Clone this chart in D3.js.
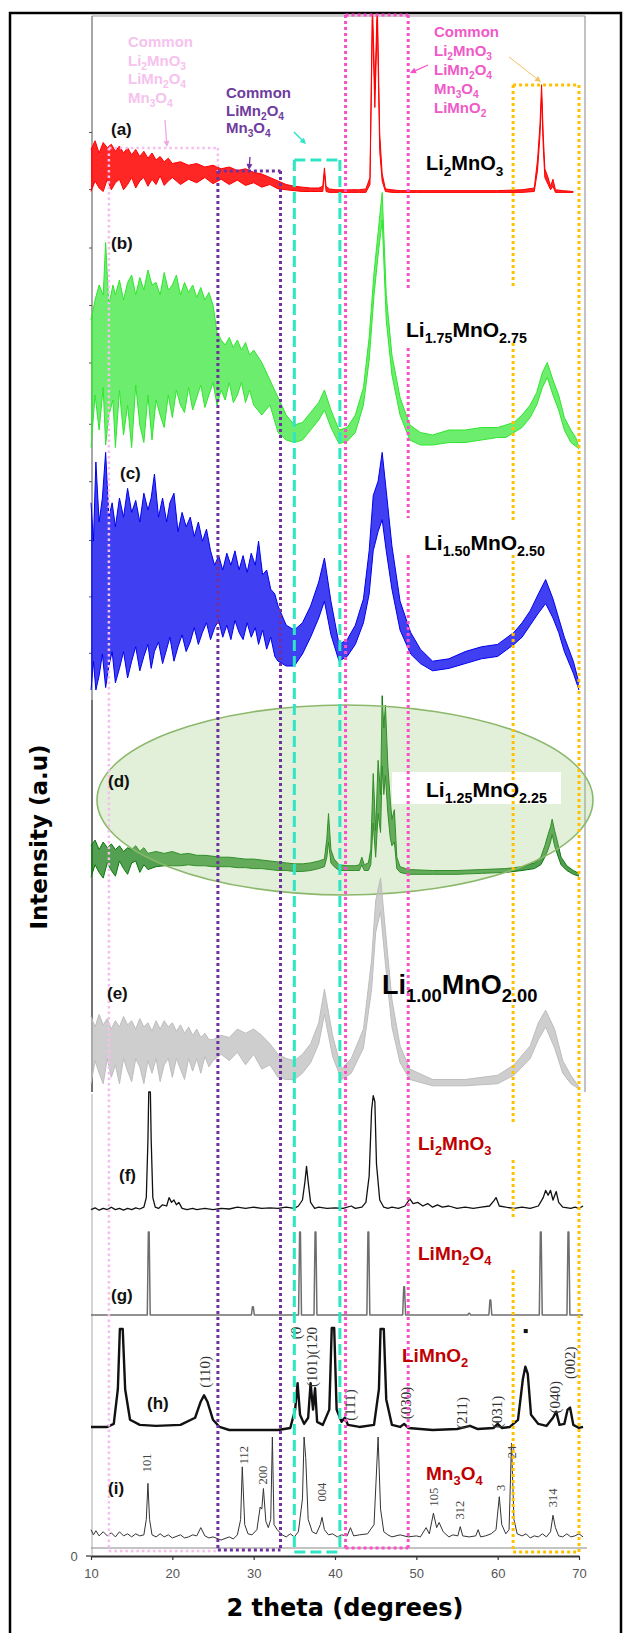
<!DOCTYPE html>
<html><head><meta charset="utf-8">
<script src="https://cdn.jsdelivr.net/npm/d3@7"></script>
<style>body{margin:0;background:#fff}svg{display:block}</style>
</head><body>
<svg id="chart" width="624" height="1633"></svg>
<script>
// ---------- data ----------
const xTicks = [10, 20, 30, 40, 50, 60, 70];

// measured samples: [2theta, upper envelope, lower envelope] (a.u., 0-100 per panel)
const specA = [[10,26,2],[10.5,31,8],[11,24,4],[11.5,30,2],[12,27,9],[12.5,29,3],[13,25,7],[13.5,28,9],[14,24,3],[14.5,27,6],[15,23,10],[15.5,26,4],[16,22,8],[16.5,25,10],[17,21,5],[17.5,24,9],[18,20,6],[18.5,22,11],[19,19,5.5],[19.5,21,8],[20,18,10],
[21,19,6],[22,17,9],[23,18,7],[24,16,10],[25,17,6.5],[26,15,9],[27,16,6],[28,14,8.5],[29,15,5.5],[30,13,7],[31,12,4.5],[32,10,6],[33,8,3.5],[34,6,3],[35,5,2.5],[36,4.5,2],[37,4,2],[38,4,2],
[38.5,5,2],[38.7,15.5,12],[38.9,5,2],[39.3,3.5,1.5],[40,3,1.5],[41,3,1.5],[42,3,1.5],[43,3,1.5],[43.8,3.5,1.5],[44.3,10,6],
[44.6,110,100],[44.9,60,50],[45.2,110,100],[45.5,35,25],[45.8,12,8],[46.2,3.5,2],[47,3,1.5],[48,2.5,1.5],[50,2.5,1.5],[55,2.5,1.5],
[60,2.5,1.5],[63,3,1.5],[64.5,4,2],[64.9,20,14],[65.2,40,34],[65.4,63,56],[65.6,35,28],[65.8,15,10],[66.2,10,6],[66.5,5,3],
[66.8,9,5],[67.1,3,1.5],[68,2.5,1.5],[69.3,2,1.5]];

const specB = [[10,52,1],[10.5,60,22],[11,66,8],[11.5,62,25],[11.8,83,2],[12.2,58,14],[12.7,66,20],[13,62,1],[13.5,68,24],[14,60,6],[14.5,67,18],[15,70,1],[15.5,62,26],[16,69,10],[16.5,64,3],[17,72,22],
[17.5,66,4],[18,67,20],[18.5,62,14],[19,71,9],[19.5,64,22],[20,66,13],[20.5,70,24],[21,62,18],[21.5,67,15],[22,63,25],[22.5,66,16],[23,61,21],[23.5,65,26],[24,60,17],[24.5,63,22],[25,58,27],[25.5,47,18],[26,44,24],[26.5,42,20],[27,45,27],[27.5,41,19],[28,44,22],[28.5,40,27],[29,43,19],[29.5,38,24],[30,40,18],[31,35,14],[32,28,18],[33,21,7],
[34,14,4],[35,10,3],[36,11,4],[37,15,8],[38,19,12],[38.7,24,16],[39.5,16,9],[40.5,8,2.5],[41.5,9,3.5],[42.5,14,7],[43.5,25,18],[44.2,45,36],[44.8,71,62],[45.3,87,78],[45.8,103,92],[46.3,62,52],[47,38,30],[48,21,14],[49.2,10,4],[50.5,7,2],[52,6,2],[54,8,3],[56,8,3],[58,9,4],[60,9,5],[61,10,5],[62,11,7],[63,14,9],[64,18,13],[64.8,23,18],[65.5,31,25],[66.1,35,29],[66.8,28,22],[67.5,22,16],[68.2,13,8],[69,8,3],[69.6,5,1.5],[70,1,0.5]];

const specC = [[10,78,0],[10.3,62,12],[10.6,95,0],[11,70,6],[11.4,80,15],[11.8,99,1],[12.2,72,10],[12.6,78,16],[13,68,3],[13.5,80,9],
[14,72,16],[14.5,84,5],[15,74,12],[15.5,79,18],[16,70,8],[16.5,82,14],[17,75,19],[17.4,80,9],[17.8,90,16],[18.3,72,20],
[18.8,80,11],[19.3,70,17],[19.7,78,22],[20.2,82,12],[20.7,66,18],[21.2,74,23],[21.7,68,16],[22.2,72,20],[22.7,64,26],[23.2,70,19],
[23.7,62,24],[24.2,67,28],[24.7,58,21],[25.2,52,26],[25.7,56,29],[26.2,50,22],[26.7,57,27],[27.2,52,21],[27.7,58,29],[28.2,50,24],
[28.7,56,21],[29.2,49,28],[29.7,57,22],[30.2,52,26],[30.6,62,19],[31.1,48,25],[31.6,50,17],[32.1,42,22],[32.6,40,14],[33,35,12],
[34,27,10],[35,25,10],[36,28,15],[37,35,22],[38,45,30],[38.7,55,37],[39.5,37,23],[40.5,19,12],[41.5,21,14],[42.5,27,19],
[43.5,38,28],[44.2,58,40],[44.7,81,58],[45.3,87,66],[45.8,99,71],[46.3,83,58],[47,60,42],[48,37,25],[49.3,24,15],[50.5,17,11],
[52,12,8],[54,13,9],[56,16,11],[58,18,13],[60,19,14],[62,24,19],[63,28,22],[64,33,27],[65,40,32],[65.9,46,36],
[66.8,38,30],[67.5,30,24],[68.2,22,16],[69.3,12,7],[70,3,0]];

const specD = [[10,18,1.5],[10.5,21,8],[11,16,4],[11.5,20,1],[12,17,9],[12.5,19,5],[13,16,2],[13.5,18,10],[14,15,6],[14.5,17,3],[15,16,9],[15.5,18,10],[16,15,4],[16.5,17,8],[17,14,5.5],
[18,15,7],[19,14,7.5],[20,15,7.5],[21,13.5,7.5],[22,14,8],[23,13,7.5],[24,13,7.5],[25,12.5,7],[26,12,7],[27,12,7],[28,11.5,6.5],[29,11,6.5],[30,11,6],[31,10.5,6],[32,10,5.5],[33,9.5,5],[34,9,5],[35,8.5,4.5],[36,8.5,4.5],[37,9,5],[38,10,6],
[38.7,11,7],[39.0,22,12],[39.2,35,20],[39.5,16,9],[39.9,11,7],[40.5,8,5],[41.5,7.5,5],[42.5,7.5,5],
[43.0,8,5],[43.3,12,8],[43.6,8,5],[44.1,9,5],[44.4,16,8],[44.7,56,30],[45.0,26,12],[45.3,63,35],[45.6,45,25],[45.8,97,60],
[46.0,80,45],[46.2,92,55],[46.5,60,35],[46.8,42,22],[47.0,32,18],[47.3,37,20],[47.6,12,6],[48,7,4],[49,5.5,3],[52,5,3],
[55,5,3],[58,5.5,3.5],[61,6,4],[63,7,5],[64.5,9,6],[65.3,12,8],[65.8,18,12],[66.2,24,16],[66.5,28,20],[66.7,32,24],
[67.0,26,18],[67.3,21,14],[67.8,12,8],[68.5,7.5,5],[69.3,5,3],[70,3.5,2]];

const specE = [[10,35,3],[10.5,30,14],[11,36,8],[11.5,31,3],[12,34,15],[12.5,29,6],[13,33,12],[13.5,30,3],[14,35,15],[14.5,31,9],[15,33,4],[15.5,29,15],[16,34,11],[16.5,30,3],[17,32,14],[17.5,28,8],[18,33,15],[18.5,29,4],[19,33,12],[19.5,30,15],[20,32,6],[20.5,28,15],[21,31,10],[21.5,27,5],[22,30,15],[22.5,26,9],[23,29,15],[23.5,25,8],[24,27,16],[24.5,24,11],[25,24,14],
[26,26,17],[27,25,14],[28,29,18],[29,27,12],[30,29,17],[31,26,10],[32,22,12],[33,17,6],[34,15,5],[35,14,5],[36,17,8],[37,22,13],[38,32,22],
[38.7,48,36],[39.7,26,16],[40.8,10,5],[42,15,8],[43.5,29,20],[44.5,62,48],[45,90,75],[45.6,101,85],[46.2,76,60],[47,43,30],
[48,21,13],[49.2,10,5],[52,5,2],[56,5,2],[60,7,3],[62,12,7],[64,21,15],[65,32,24],[65.9,38,30],[67,29,20],
[68,14,8],[69,7,3],[70,1.5,0.5]];

// reference patterns: [2theta, intensity]
const refLi2MnO3 = [[10,2],[10.5,3.5],[11,1.5],[11.5,3],[12,2],[12.5,4],[13,2],[13.5,3],[14,1.5],[14.5,3],[15,2],[15.5,3.5],[16,2.5],[16.5,4],[16.8,12],[17.0,60],[17.1,100],[17.3,100],[17.4,60],[17.6,12],[17.9,4],[18.3,3],[18.8,6],[19.3,5],[19.6,12],[19.9,8],[20.2,10],[20.5,6],[20.8,8],[21.2,3],[21.8,2],[22.5,3],[23,2],[24,3],[25,2],[26,3],[27,2.5],[28,4],[29,3],[30,4],[31,3],[32,3.5],[33,3],[34,4],[35,3],[35.5,5],[36.0,10],[36.3,25],[36.5,38],[36.7,25],[37.0,8],[37.5,3],[38,4],[39,3],[40,3.5],[41,3],[42,5],[42.5,3],[43.3,4],[43.8,8],[44.2,30],[44.5,85],[44.7,97],[44.9,92],[45.1,40],[45.5,10],[46,4],[46.5,3],[47,4],[47.8,3],[48.6,5],[49.2,11],[49.6,7],[50.2,8],[50.8,5],[51.4,7],[52,4],[52.6,6],[53.2,4],[54,5],[55,3],[56,4],[57,3],[58,4],[59,5],[59.5,9],[59.8,12],[60.2,5],[61,4],[62,3],[63,4],[64,3],[65,5],[65.6,12],[65.9,18],[66.2,14],[66.5,18],[66.8,10],[67.2,17],[67.5,8],[68,4],[69,3],[69.5,4],[70,3],[70.5,5]];

const refLiMn2O4Peaks = [17.1, 29.9, 35.7, 37.6, 44.1, 48.5, 56.5, 59.1, 65.3, 68.7];
const refLiMn2O4Heights = [100, 10, 100, 100, 100, 34, 2, 18, 100, 100];

const refLiMnO2 = [[10,3],[12,3],[12.8,6],[13.3,40],[13.55,99],[13.9,99],[14.2,40],[14.8,10],[16,5],[18,4],[21,5],[22.8,12],[23.5,28],[23.9,34],[24.3,28],[25,10],[25.8,3],[27,0],[30,0],[33,0],[34.5,2],[35.1,20],[35.4,46],[35.7,15],[36.2,6],[36.7,12],[37.0,46],[37.3,20],[37.55,41],[37.8,8],[38.5,5],[39.3,20],[39.6,100],[39.9,100],[40.2,20],[40.8,8],[41.2,12],[41.6,5],[43,3],[44.8,5],[45.4,40],[45.6,99],[46.0,99],[46.3,30],[47,5],[48,3],[48.5,6],[49,2],[52,0],[55,1],[56.6,4],[57.5,1],[59.5,2],[60,6],[60.5,2],[61.5,3],[62.5,10],[63.1,50],[63.4,62],[63.7,55],[64.1,15],[65,6],[66,4],[66.8,12],[67.2,18],[67.6,5],[68.2,6],[68.6,20],[68.9,22],[69.3,5],[70,2],[70.5,3]];
const liMnO2Labels = ["(110)", "(0", "(101)(120", "(111)", "(030)", "(211)", "(031)", "(040)", "(002)"];
const liMnO2LabelTheta = [24.0, 35.2, 37.2, 41.85, 48.7, 55.6, 59.9, 67.05, 68.9];
const liMnO2LabelLevel = [57, 95, 71.5, 24.5, 26.5, 16.7, 17.6, 32, 66];

const refMn3O4 = [[10,10],[10.3,5],[10.6,9],[11,4],[11.5,8],[12,4],[12.5,7],[13,3],[13.5,8],[14,4],[14.5,6],[15,3],[15.5,6],[16,4],[16.5,5],[16.8,20],[17.0,55],[17.2,20],[17.5,5],[18,3],[18.5,6],[19,3],[19.5,5],[20,2],[21,5],[21.5,2],[22,3],[22.5,5],[23,4],[23.5,12],[24,4],[24.5,2],[25,3],[26,0],[27,3],[27.5,1],[28,5],[28.4,20],[28.6,71],[28.9,15],[29.3,6],[29.8,5],[30.4,10],[30.8,32],[31.0,30],[31.2,50],[31.5,18],[31.8,12],[32.1,20],[32.3,100],[32.5,15],[32.9,10],[33.5,5],[34,3],[34.5,6],[35,3],[35.5,8],[36.0,40],[36.2,100],[36.4,80],[36.7,20],[37.2,8],[37.7,6],[38.2,15],[38.4,22],[38.7,10],[39.2,5],[39.7,6],[40.3,3],[40.8,5],[41.5,4],[41.9,12],[42.3,4],[43,5],[44,6],[44.8,15],[45.3,100],[45.6,30],[46,8],[46.5,5],[47,3],[48,5],[49,3],[50,4],[50.5,3],[51.2,12],[51.6,6],[52.1,26],[52.5,12],[52.8,17],[53.3,8],[54,3],[54.5,5],[55.1,4],[55.4,13],[55.7,4],[56.5,3],[57.3,4],[57.6,10],[57.9,3],[58.5,4],[59.2,6],[59.8,10],[60.2,42],[60.5,15],[61,6],[61.4,10],[61.7,94],[62.0,20],[62.4,6],[63,4],[63.5,6],[64,2],[64.5,4],[65,3],[65.5,6],[66,3],[66.5,8],[66.8,24],[67.1,12],[67.5,4],[68,3],[68.5,6],[69,3],[69.5,4],[70,6],[70.5,3]];
const mn3o4Labels = ["101", "112", "200", "004", "105", "312", "3", "24", "314"];
const mn3o4LabelTheta = [16.9, 28.75, 31.15, 38.35, 52.2, 55.4, 60.35, 61.75, 66.8];
const mn3o4LabelLevel = [75, 82.5, 63, 46.6, 41.7, 29, 50.5, 85.4, 40.8];

const panelLetters = ["(a)", "(b)", "(c)", "(d)", "(e)", "(f)", "(g)", "(h)", "(i)"];
const sampleNames = ["Li_{2}MnO_{3}", "Li_{1.75}MnO_{2.75}", "Li_{1.50}MnO_{2.50}", "Li_{1.25}MnO_{2.25}", "Li_{1.00}MnO_{2.00}"];
const referenceNames = ["Li_{2}MnO_{3}", "LiMn_{2}O_{4}", "LiMnO_{2}", "Mn_{3}O_{4}"];
const noteLightPink = ["Common", "Li_{2}MnO_{3}", "LiMn_{2}O_{4}", "Mn_{3}O_{4}"];
const notePurple = ["Common", "LiMn_{2}O_{4}", "Mn_{3}O_{4}"];
const noteMagenta = ["Common", "Li_{2}MnO_{3}", "LiMn_{2}O_{4}", "Mn_{3}O_{4}", "LiMnO_{2}"];

// 2theta ranges of the highlighted common-peak windows
const windowLightPink = [12.2, 25.6];
const windowPurple = [25.6, 33.3];
const windowCyan = [35.0, 40.6];
const windowMagenta = [41.3, 49.0];
const windowOrange = [61.9, 70.0];

// ---------- layout ----------
const svg = d3.select("#chart");
const defs = svg.append("defs");
const SANS = "'Liberation Sans', Arial, sans-serif";
const HEAVY = "'DejaVu Sans', sans-serif";
const SERIF = "'Liberation Serif', 'Times New Roman', serif";

const x = d3.scaleLinear().domain([10, 70]).range([91, 579]);
const panelPx = {a:[195,20], b:[450,200], c:[690,450], d:[880,690], e:[1090,880],
                 f:[1212,1092], g:[1315,1232], h:[1430,1328], i:[1540,1437]};
const y = {};
Object.keys(panelPx).forEach(k => { y[k] = d3.scaleLinear().domain([0, 100]).range(panelPx[k]); });

// outer frame
svg.append("rect").attr("x", 10).attr("y", 13).attr("width", 611).attr("height", 1640)
  .attr("fill", "none").attr("stroke", "#000").attr("stroke-width", 2.5);

// plot frame pieces
const frame = svg.append("g").attr("fill", "none");
frame.append("line").attr("x1", 92).attr("x2", 92).attr("y1", 16).attr("y2", 700).attr("stroke", "#8a8a8a").attr("stroke-width", 1.5);
frame.append("line").attr("x1", 92).attr("x2", 92).attr("y1", 700).attr("y2", 1092).attr("stroke", "#444").attr("stroke-width", 1.5);
frame.append("line").attr("x1", 92).attr("x2", 92).attr("y1", 1094).attr("y2", 1556).attr("stroke", "#aaa").attr("stroke-width", 1);
frame.append("line").attr("x1", 92).attr("x2", 585).attr("y1", 16).attr("y2", 16).attr("stroke", "#999").attr("stroke-width", 1.2);
frame.append("line").attr("x1", 585).attr("x2", 585).attr("y1", 16).attr("y2", 1092).attr("stroke", "#999").attr("stroke-width", 1.2);
frame.append("line").attr("x1", 91).attr("x2", 587).attr("y1", 1548).attr("y2", 1548).attr("stroke", "#888").attr("stroke-width", 1);

// small left ticks of the sample panels
const leftTicks = {a:[3.4, 36], b:[10.5, 35, 58, 81], c:[15.5, 39, 62.5, 87]};
Object.keys(leftTicks).forEach(k => {
  const g = svg.append("g").attr("transform", "translate(92,0)")
    .call(d3.axisLeft(y[k]).tickValues(leftTicks[k]).tickSize(3).tickFormat(""));
  g.select(".domain").remove();
  g.selectAll("line").attr("stroke", "#555");
});

defs.append("clipPath").attr("id", "clipTop").append("rect")
  .attr("x", 80).attr("y", 14).attr("width", 520).attr("height", 1700);

// noisy scan drawn as the band between its upper and lower envelopes
function band(spec, k, color, fillOpacity, lw) {
  const ys = y[k];
  const g = svg.append("g").attr("clip-path", "url(#clipTop)");
  g.append("path").datum(spec)
    .attr("d", d3.area().x(d => x(d[0])).y0(d => ys(d[2])).y1(d => ys(d[1])))
    .attr("fill", color).attr("fill-opacity", fillOpacity);
  [1, 2].forEach(j => {
    g.append("path").datum(spec)
      .attr("d", d3.line().x(d => x(d[0])).y(d => ys(d[j])))
      .attr("fill", "none").attr("stroke", color).attr("stroke-width", lw).attr("stroke-linejoin", "miter");
  });
}

function trace(points, k, color, lw) {
  svg.append("path").datum(points)
    .attr("d", d3.line().x(d => x(d[0])).y(d => y[k](d[1])))
    .attr("fill", "none").attr("stroke", color).attr("stroke-width", lw).attr("stroke-linejoin", "round");
}

// chemical formula with subscripts
function chem(parent, str, px, py, size, color, family) {
  const t = parent.append("text").attr("x", px).attr("y", py).attr("font-size", size)
    .attr("fill", color).attr("font-weight", "bold").attr("font-family", family || SANS);
  const parts = str.split(/(_\{[^}]*\})/).filter(s => s.length);
  let low = false;
  const dd = size * 0.28;
  parts.forEach(p => {
    if (p.startsWith("_{")) {
      t.append("tspan").attr("font-size", size * 0.68).attr("dy", low ? 0 : dd).text(p.slice(2, -1));
      low = true;
    } else {
      t.append("tspan").attr("dy", low ? -dd : 0).text(p);
      low = false;
    }
  });
  return t;
}

// ---------- sample patterns ----------
band(specA, "a", "#ff0000", 0.85, 1);
band(specB, "b", "#2fe62f", 0.7, 1);
band(specC, "c", "#0000ee", 0.75, 1);
band(specD, "d", "#0a780a", 0.7, 1);

// highlighted region around pattern (d)
svg.append("ellipse").attr("cx", 345).attr("cy", 800).attr("rx", 248).attr("ry", 95)
  .attr("fill", "rgba(150,200,120,0.28)").attr("stroke", "#8cb86c").attr("stroke-width", 1.6);
svg.append("rect").attr("x", 392).attr("y", 772).attr("width", 169).attr("height", 32).attr("fill", "#fff");

band(specE, "e", "#bdbdbd", 0.75, 1);

// ---------- reference patterns ----------
trace(refLi2MnO3, "f", "#111", 1.3);

const gPath = [[10, 0]];
refLiMn2O4Peaks.forEach((p, i) => {
  gPath.push([p - 0.18, 0], [p - 0.05, refLiMn2O4Heights[i]], [p + 0.05, refLiMn2O4Heights[i]], [p + 0.18, 0]);
});
gPath.push([70.5, 0]);
trace(gPath, "g", "#6e6e6e", 1.5);

trace(refLiMnO2, "h", "#111", 2.4);
trace(refMn3O4, "i", "#333", 1);

// marker dot above the LiMnO2 reflection near 63 degrees
svg.append("rect").attr("x", x(63.45) - 2).attr("y", y.h(97) - 2).attr("width", 4).attr("height", 4).attr("fill", "#111");

// Miller-index labels
function vLabels(names, thetas, levels, k, size, color) {
  names.forEach((s, i) => {
    svg.append("text")
      .attr("transform", `translate(${x(thetas[i])},${y[k](levels[i])}) rotate(-90)`)
      .attr("text-anchor", "middle").attr("dominant-baseline", "central")
      .attr("font-family", SERIF).attr("font-size", size).attr("fill", color).text(s);
  });
}
vLabels(liMnO2Labels, liMnO2LabelTheta, liMnO2LabelLevel, "h", 15, "#333");
vLabels(mn3o4Labels, mn3o4LabelTheta, mn3o4LabelLevel, "i", 12.5, "#444");

// ---------- common-peak windows ----------
function vSeg(px, y1, y2, gaps, color, dash, w) {
  let start = y1;
  const segs = [];
  (gaps || []).forEach(g => { segs.push([start, g[0]]); start = g[1]; });
  segs.push([start, y2]);
  segs.forEach(s => svg.append("line").attr("x1", px).attr("x2", px).attr("y1", s[0]).attr("y2", s[1])
    .attr("stroke", color).attr("stroke-width", w).attr("stroke-dasharray", dash));
}
function hSeg(x1, x2, py, color, dash, w) {
  svg.append("line").attr("x1", x1).attr("x2", x2).attr("y1", py).attr("y2", py)
    .attr("stroke", color).attr("stroke-width", w).attr("stroke-dasharray", dash);
}

const cLight = "#f7bdef", cPurple = "#7030a0", cCyan = "#2ee6c3", cMag = "#fa4fc6", cOrange = "#ffc000";

// light pink window
vSeg(x(windowLightPink[0]), 148, 1551, [], cLight, "2.5 3", 2.5);
vSeg(x(windowLightPink[1]), 148, 171, [], cLight, "2.5 3", 2.5);
hSeg(x(windowLightPink[0]), x(windowLightPink[1]), 148, cLight, "2.5 3", 2.5);
hSeg(x(windowLightPink[0]), x(windowLightPink[1]), 1551, cLight, "2.5 3", 2.5);
// purple window
vSeg(x(windowPurple[0]), 171, 1550, [], cPurple, "3 3", 3);
vSeg(x(windowPurple[1]), 171, 1550, [], cPurple, "3 3", 3);
hSeg(x(windowPurple[0]), x(windowPurple[1]), 171, cPurple, "3 3", 3);
hSeg(x(windowPurple[0]), x(windowPurple[1]), 1550, cPurple, "3 3", 3);
// cyan window
vSeg(x(windowCyan[0]), 160, 1552, [], cCyan, "11 5", 3);
vSeg(x(windowCyan[1]), 160, 1552, [], cCyan, "11 5", 3);
hSeg(x(windowCyan[0]), x(windowCyan[1]), 160, cCyan, "11 5", 3);
hSeg(x(windowCyan[0]), x(windowCyan[1]), 1552, cCyan, "11 5", 3);
// magenta window
vSeg(x(windowMagenta[0]), 15, 1548, [], cMag, "3 3", 3);
vSeg(x(windowMagenta[1]), 15, 1548, [[288, 348], [518, 555]], cMag, "3 3", 3);
hSeg(x(windowMagenta[0]), x(windowMagenta[1]), 15, cMag, "3 3", 3);
hSeg(x(windowMagenta[0]), x(windowMagenta[1]), 1548, cMag, "3 3", 3);
// orange window
vSeg(x(windowOrange[0]), 85, 1552, [[288, 343], [520, 555], [1123, 1160], [1217, 1270]], cOrange, "3 3", 3);
vSeg(x(windowOrange[1]), 85, 1552, [], cOrange, "3 3", 3);
hSeg(x(windowOrange[0]), x(windowOrange[1]), 85, cOrange, "3 3", 3);
hSeg(x(windowOrange[0]), x(windowOrange[1]), 1552, cOrange, "3 3", 3);

// ---------- notes and arrows ----------
function arrow(x1, y1, x2, y2, color, w) {
  const ang = Math.atan2(y2 - y1, x2 - x1), L = 6, H = 3;
  svg.append("line").attr("x1", x1).attr("y1", y1).attr("x2", x2 - Math.cos(ang) * L * 0.6).attr("y2", y2 - Math.sin(ang) * L * 0.6)
    .attr("stroke", color).attr("stroke-width", w);
  const bx = x2 - Math.cos(ang) * L, by = y2 - Math.sin(ang) * L;
  const px = -Math.sin(ang) * H, py = Math.cos(ang) * H;
  svg.append("path").attr("d", `M${x2},${y2}L${bx + px},${by + py}L${bx - px},${by - py}Z`).attr("fill", color);
}

const notes = svg.append("g");
noteLightPink.forEach((s, i) => chem(notes, s, 128, 47 + i * 18.5, 15, "#f6c2ee"));
notePurple.forEach((s, i) => chem(notes, s, 226, 98 + i * 17.5, 15, "#6f3c9e"));
noteMagenta.forEach((s, i) => chem(notes, s, 434, 37 + i * 19, 15, "#f05ac8"));

arrow(165, 120, 167, 147, "#f3a8e6", 1.3);
arrow(250, 157, 249, 170, cPurple, 1.3);
arrow(294, 132, 306, 144, cCyan, 1.5);
arrow(428, 65, 410, 73, cMag, 1.3);
arrow(509, 57, 541, 82, "#f2c46a", 1);

// ---------- labels ----------
const letterPos = [[111,135],[111,249],[120,479],[108,787],[107,999],[119,1181],[111,1301],[147,1409],[108,1494]];
panelLetters.forEach((s, i) => {
  svg.append("text").attr("x", letterPos[i][0]).attr("y", letterPos[i][1])
    .attr("font-family", SANS).attr("font-weight", "bold").attr("font-size", 17).attr("fill", "#111").text(s);
});

const samplePos = [[426,170,20],[406,337,21],[424,550,21],[426,797,21],[382,994,27]];
sampleNames.forEach((s, i) => chem(svg, s, samplePos[i][0], samplePos[i][1], samplePos[i][2], "#000"));

const refPos = [[418,1150],[418,1260],[402,1362],[426,1480]];
referenceNames.forEach((s, i) => chem(svg, s, refPos[i][0], refPos[i][1], 19, "#c00000"));

// ---------- axes ----------
const xAxis = svg.append("g").attr("transform", "translate(0,1556)")
  .call(d3.axisBottom(x).tickValues(xTicks).tickSize(4).tickSizeOuter(0).tickPadding(9));
xAxis.select(".domain").attr("stroke", "#333").attr("stroke-width", 2);
xAxis.selectAll(".tick line").attr("stroke", "#333").attr("stroke-width", 1.2);
xAxis.selectAll(".tick text").attr("font-family", SANS).attr("font-size", 13).attr("fill", "#555");

svg.append("line").attr("x1", 86).attr("x2", 91).attr("y1", 1556).attr("y2", 1556).attr("stroke", "#333").attr("stroke-width", 1.2);
svg.append("text").attr("x", 74).attr("y", 1556).attr("dominant-baseline", "central").attr("text-anchor", "middle")
  .attr("font-family", SANS).attr("font-size", 13).attr("fill", "#555").text("0");

svg.append("text").attr("x", 345).attr("y", 1616).attr("text-anchor", "middle")
  .attr("font-family", HEAVY).attr("font-weight", "bold").attr("font-size", 24).attr("fill", "#000")
  .text("2 theta (degrees)");
svg.append("text").attr("transform", "translate(47,837) rotate(-90)").attr("text-anchor", "middle")
  .attr("font-family", HEAVY).attr("font-weight", "bold").attr("font-size", 23).attr("fill", "#000")
  .text("Intensity (a.u)");
</script>
</body></html>
